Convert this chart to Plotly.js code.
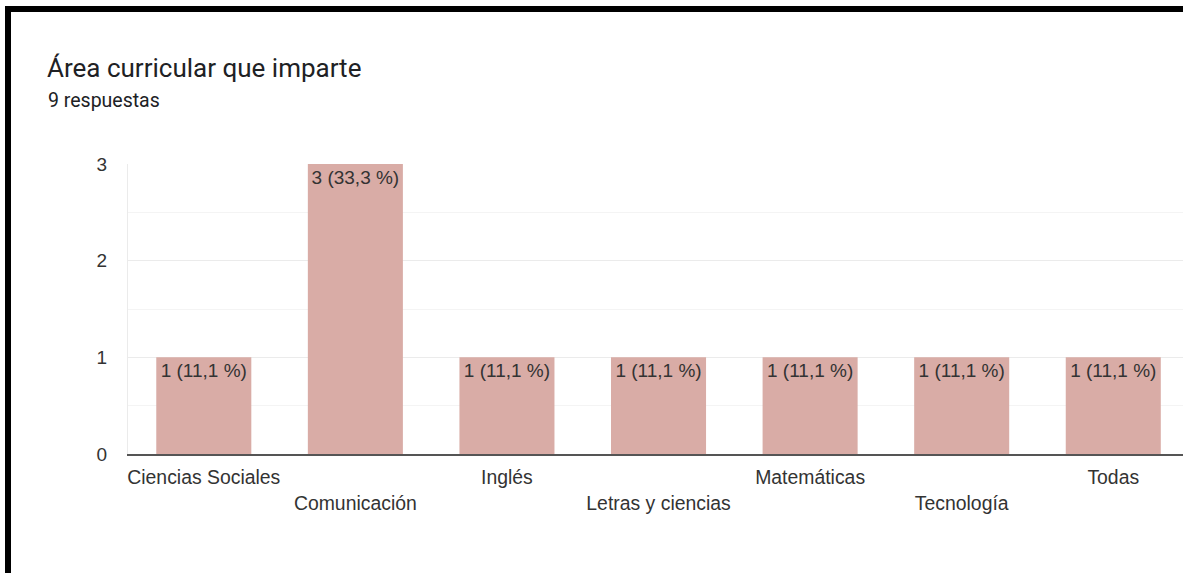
<!DOCTYPE html>
<html>
<head>
<meta charset="utf-8">
<script src="https://cdn.plot.ly/plotly-3.0.1.min.js"></script>
<style>
  html, body { margin: 0; padding: 0; background: #fff; overflow: hidden; }
  #wrap { position: relative; width: 1183px; height: 573px; }
  #chart { position: absolute; left: 0; top: 0; width: 1183px; height: 573px; }
  #frame { position: absolute; left: 5px; top: 6px; width: 1190px; height: 600px;
           border-top: 6px solid #000; border-left: 6px solid #000; pointer-events: none; }
</style>
</head>
<body>
<div id="wrap">
  <div id="chart"></div>
  <div id="frame"></div>
</div>
<script>
const titleText = "Área curricular que imparte";
const subtitleText = "9 respuestas";
const categories = ["Ciencias Sociales", "Comunicación", "Inglés", "Letras y ciencias", "Matemáticas", "Tecnología", "Todas"];
const counts = [1, 3, 1, 1, 1, 1, 1];
const percents = ["11,1", "33,3", "11,1", "11,1", "11,1", "11,1", "11,1"];
const yTicks = [0, 1, 2, 3];

const barLabels = counts.map((c, i) => c + " (" + percents[i] + " %)");
const tickText = categories.map((c, i) => (i % 2 === 1 ? "<br>" + c : c));

const trace = {
  type: "bar",
  x: categories,
  y: counts,
  text: barLabels,
  textposition: "inside",
  insidetextanchor: "end",
  textangle: 0,
  constraintext: "none",
  insidetextfont: { family: "Liberation Sans, Arial, sans-serif", size: 19, color: "#333" },
  marker: { color: "#d9aca6" },
  hoverinfo: "none"
};

const layout = {
  width: 1183,
  height: 573,
  margin: { l: 128, r: 0, t: 164, b: 119 },
  paper_bgcolor: "#fff",
  plot_bgcolor: "#fff",
  showlegend: false,
  bargap: 0.373,
  font: { family: "Liberation Sans, Arial, sans-serif", color: "#333" },
  title: {
    text: titleText,
    xref: "container", yref: "container",
    x: 47 / 1183, xanchor: "left",
    y: 1 - 68 / 573, yanchor: "middle",
    font: { family: "Roboto, sans-serif", size: 26, color: "#202124" }
  },
  annotations: [{
    text: subtitleText,
    xref: "paper", yref: "paper",
    x: -82 / 1055, xanchor: "left",
    y: 1 + (164 - 101) / 290, yanchor: "middle",
    showarrow: false,
    font: { family: "Roboto, sans-serif", size: 19.5, color: "#202124" }
  }],
  xaxis: {
    type: "category",
    range: [-0.5, 6.46],
    tickmode: "array",
    tickvals: categories,
    ticktext: tickText,
    ticks: "",
    ticklabelstandoff: 5,
    tickfont: { size: 19.4, color: "#333" },
    showgrid: false,
    showline: true,
    linecolor: "#555",
    linewidth: 2,
    zeroline: false,
    fixedrange: true
  },
  yaxis: {
    range: [0, 3],
    tickmode: "array",
    tickvals: yTicks,
    ticks: "",
    ticklabelstandoff: 16,
    tickfont: { size: 19, color: "#333" },
    showgrid: true,
    gridcolor: "#ebebeb",
    gridwidth: 1,
    minor: { dtick: 0.5, showgrid: true, gridcolor: "#f4f4f4", gridwidth: 1 },
    showline: true,
    linecolor: "#ebebeb",
    linewidth: 1,
    zeroline: false,
    fixedrange: true
  }
};

Plotly.newPlot("chart", [trace], layout, { displayModeBar: false, staticPlot: true });
</script>
</body>
</html>
